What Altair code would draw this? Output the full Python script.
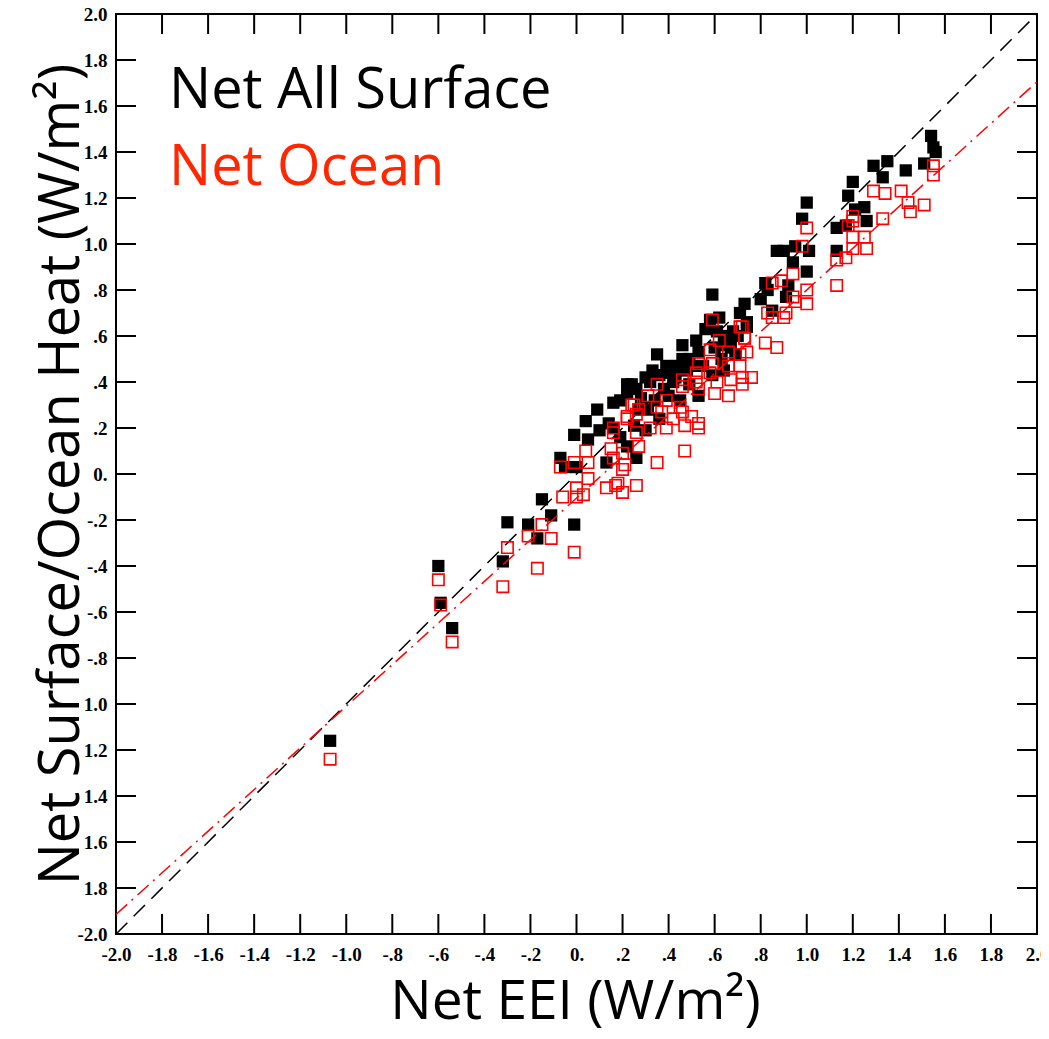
import altair as alt
import pandas as pd

# ---- data ----
black_x = [-1.07, -0.60, -0.59, -0.54, -0.32, -0.30, -0.21, -0.17, -0.15, -0.11, -0.01, -0.07, -0.01, 0.04, 0.05,
           -0.05, 0.00, 0.16, 0.22, 0.26, 0.16, 0.13, 0.19, 0.22, 0.26, 0.59, 0.73, 0.71, 0.62, 0.74,
           0.35, 0.46, 0.52, 0.46, 0.53, 0.33, 0.24, 0.39, 0.22, 0.43, 0.14, 1.35, 1.29, 1.43, 1.51,
           1.56, 1.54, 1.55, 1.33, 1.20, 1.18, 1.00, 0.98, 1.25, 1.21, 1.26, 1.13, 1.17, 0.87, 0.95,
           1.01, 0.94, 1.13, 1.00, 0.82, 0.92, 0.91, 0.85, 0.74, 0.49, 0.56, 0.64, 0.58, 0.80, 0.27,
           0.34, 0.36, 0.30, 0.40, 0.45, 0.49, 0.53, 0.59, 0.64, 0.69, 0.19, 0.10, 0.09, 0.30, 0.32,
           0.36, 0.40, 0.44, 0.48, 0.55, 0.60, 0.65, 0.68, 0.70, 0.63, 0.66, 0.25, 0.28, 0.31, 0.90,
           0.83, 0.61, 0.67, 0.42, 0.38, 0.50]
black_y = [-1.16, -0.40, -0.56, -0.67, -0.38, -0.21, -0.22, -0.28, -0.11, -0.18, -0.22, 0.07, 0.17, 0.23, 0.15,
           0.03, 0.03, 0.31, 0.39, 0.37, 0.20, 0.05, 0.16, 0.12, 0.07, 0.78, 0.74, 0.70, 0.68, 0.66,
           0.52, 0.56, 0.58, 0.50, 0.53, 0.45, 0.39, 0.47, 0.35, 0.42, 0.22, 1.36, 1.34, 1.32, 1.35,
           1.40, 1.47, 1.42, 1.29, 1.27, 1.21, 1.18, 1.11, 1.16, 1.15, 1.10, 1.07, 1.08, 0.97, 0.99,
           0.97, 0.92, 0.97, 0.88, 0.83, 0.82, 0.77, 0.71, 0.64, 0.50, 0.63, 0.60, 0.67, 0.76, 0.28,
           0.32, 0.24, 0.19, 0.34, 0.32, 0.39, 0.34, 0.43, 0.45, 0.52, 0.32, 0.19, 0.28, 0.42, 0.40,
           0.43, 0.44, 0.47, 0.45, 0.47, 0.55, 0.56, 0.62, 0.60, 0.50, 0.58, 0.21, 0.33, 0.28, 0.97,
           0.80, 0.62, 0.55, 0.40, 0.37, 0.47]

red_x = [-1.07, -0.60, -0.59, -0.54, -0.32, -0.30, -0.21, -0.15, -0.11, -0.17, -0.01, -0.06, 0.00, 0.03, 0.00,
         0.05, 0.04, -0.01, -0.07, 0.05, 0.16, 0.15, 0.16, 0.20, 0.21, 0.20, 0.13, 0.17, 0.20, 0.18,
         0.25, 0.27, 0.22, 0.26, 0.27, 0.26, 0.35, 0.47, 0.53, 0.59, 0.71, 0.73, 0.62, 0.58, 0.66,
         0.71, 0.74, 0.53, 0.59, 0.66, 0.71, 0.52, 0.58, 0.46, 0.52, 0.61, 0.67, 0.72, 0.76, 0.72,
         0.46, 0.53, 0.60, 0.66, 0.35, 0.31, 0.24, 0.39, 0.35, 0.45, 0.26, 0.22, 0.37, 0.42, 0.46,
         0.50, 0.53, 0.47, 0.39, 0.32, 0.16, 1.55, 1.55, 1.41, 1.29, 1.34, 1.44, 1.51, 1.45, 1.33,
         1.20, 1.20, 1.18, 1.00, 1.20, 1.25, 1.26, 1.20, 1.17, 1.13, 0.98, 0.94, 1.00, 1.13, 0.89,
         0.85, 0.94, 0.95, 1.00, 0.83, 0.85, 0.91, 0.90, 0.72, 0.73, 0.82, 0.87]
red_y = [-1.24, -0.46, -0.57, -0.73, -0.49, -0.32, -0.27, -0.22, -0.28, -0.41, -0.34, -0.10, -0.06, -0.09, -0.10,
         -0.02, 0.10, 0.05, 0.03, 0.05, 0.18, 0.11, 0.07, 0.09, 0.04, 0.02, -0.06, -0.05, -0.08, -0.04,
         0.30, 0.28, 0.24, 0.18, 0.12, -0.05, 0.05, 0.10, 0.20, 0.67, 0.64, 0.59, 0.58, 0.54, 0.53,
         0.52, 0.53, 0.48, 0.48, 0.47, 0.47, 0.44, 0.44, 0.41, 0.40, 0.40, 0.41, 0.42, 0.42, 0.39,
         0.38, 0.37, 0.35, 0.34, 0.39, 0.34, 0.30, 0.32, 0.29, 0.29, 0.26, 0.25, 0.27, 0.24, 0.27,
         0.25, 0.22, 0.21, 0.20, 0.20, 0.20, 1.34, 1.30, 1.23, 1.23, 1.22, 1.18, 1.17, 1.14, 1.11,
         1.12, 1.10, 1.08, 1.07, 1.03, 1.03, 0.98, 0.98, 0.94, 0.93, 0.99, 0.87, 0.80, 0.82, 0.84,
         0.83, 0.77, 0.75, 0.74, 0.70, 0.68, 0.70, 0.68, 0.64, 0.59, 0.57, 0.55]

tick_values = [-2.0, -1.8, -1.6, -1.4, -1.2, -1.0, -0.8, -0.6, -0.4, -0.2, 0.0,
               0.2, 0.4, 0.6, 0.8, 1.0, 1.2, 1.4, 1.6, 1.8, 2.0]
x_tick_labels = ["-2.0", "-1.8", "-1.6", "-1.4", "-1.2", "-1.0", "-.8", "-.6", "-.4", "-.2", "0.",
                 ".2", ".4", ".6", ".8", "1.0", "1.2", "1.4", "1.6", "1.8", "2.0"]
y_tick_labels = ["-2.0", "1.8", "1.6", "1.4", "1.2", "1.0", "-.8", "-.6", "-.4", "-.2", "0.",
                 ".2", ".4", ".6", ".8", "1.0", "1.2", "1.4", "1.6", "1.8", "2.0"]
inner_ticks = tick_values[1:-1]

fit_black = (1.0, 0.0)      # slope, intercept
fit_red = (0.905, -0.105)
line_x = [-2.0, 2.0]

legend_labels = ["Net All Surface", "Net Ocean"]
x_title = "Net EEI (W/m²)"
y_title = "Net Surface/Ocean Heat (W/m²)"

# ---- build chart ----
W, H = 921, 920
dom = [-2.0, 2.0]
xs = alt.Scale(domain=dom, nice=False, zero=False)
ys = alt.Scale(domain=dom, nice=False, zero=False)


def lab_expr(labels):
    arr = "[" + ",".join("'" + s + "'" for s in labels) + "]"
    return arr + "[round((datum.value + 2) * 5)]"


x_axis = alt.Axis(values=tick_values, labelExpr=lab_expr(x_tick_labels), ticks=False, domain=False,
                  grid=False, labelFont="Liberation Serif", labelFontSize=19, labelFontWeight="bold",
                  labelColor="black", labelPadding=11, labelFlush=False, labelOverlap=False,
                  title=x_title, titleFont="Open Sans", titleFontSize=55, titleFontWeight="normal",
                  titleColor="black", titleX=459, titleY=84, titleBaseline="alphabetic",
                  titleAlign="center")
y_axis = alt.Axis(values=tick_values, labelExpr=lab_expr(y_tick_labels), ticks=False, domain=False,
                  grid=False, labelFont="Liberation Serif", labelFontSize=19, labelFontWeight="bold",
                  labelColor="black", labelPadding=9, labelFlush=False, labelOverlap=False,
                  title=y_title, titleFont="Open Sans", titleFontSize=56, titleFontWeight="normal",
                  titleColor="black", titleX=-38, titleY=460, titleAngle=270,
                  titleBaseline="alphabetic", titleAlign="center")

black_df = pd.DataFrame({"x": black_x, "y": black_y})
red_df = pd.DataFrame({"x": red_x, "y": red_y})

black_pts = alt.Chart(black_df).mark_square(size=150, filled=True, color="black", opacity=1).encode(
    x=alt.X("x:Q", scale=xs, axis=x_axis),
    y=alt.Y("y:Q", scale=ys, axis=y_axis),
)
red_pts = alt.Chart(red_df).mark_square(size=130, filled=False, color="#ff0000", strokeWidth=1.6,
                                        opacity=1).encode(x="x:Q", y="y:Q")


def line_df(fit):
    return pd.DataFrame({"x": line_x, "y": [fit[0] * v + fit[1] for v in line_x]})


black_line = alt.Chart(line_df(fit_black)).mark_line(color="black", strokeWidth=1.5,
                                                     strokeDash=[16, 9], clip=True).encode(x="x:Q", y="y:Q")
red_line = alt.Chart(line_df(fit_red)).mark_line(color="#ff0000", strokeWidth=1.5,
                                                 strokeDash=[15, 6, 2, 6], clip=True).encode(x="x:Q", y="y:Q")

tick_df = pd.DataFrame({"t": inner_ticks})
tk = dict(color="black", strokeWidth=2)
t_bottom = alt.Chart(tick_df).mark_rule(**tk).encode(x="t:Q", y=alt.value(H), y2=alt.value(H - 20))
t_top = alt.Chart(tick_df).mark_rule(**tk).encode(x="t:Q", y=alt.value(0), y2=alt.value(20))
t_left = alt.Chart(tick_df).mark_rule(**tk).encode(y="t:Q", x=alt.value(0), x2=alt.value(20))
t_right = alt.Chart(tick_df).mark_rule(**tk).encode(y="t:Q", x=alt.value(W), x2=alt.value(W - 20))

leg1 = alt.Chart(pd.DataFrame({"label": [legend_labels[0]]})).mark_text(
    align="left", baseline="alphabetic", font="Open Sans", fontSize=56, color="black").encode(
    x=alt.value(53), y=alt.value(94), text="label:N")
leg2 = alt.Chart(pd.DataFrame({"label": [legend_labels[1]]})).mark_text(
    align="left", baseline="alphabetic", font="Open Sans", fontSize=56, color="#ff2600").encode(
    x=alt.value(53), y=alt.value(171), text="label:N")

chart = alt.layer(black_pts, black_line, red_line, red_pts, t_bottom, t_top, t_left, t_right, leg1, leg2).properties(
    width=W, height=H,
    autosize=alt.AutoSizeParams(type="none"),
    padding={"left": 108, "top": 6, "right": 4, "bottom": 96},
    background="white",
).configure_view(stroke="black", strokeWidth=2)

chart.save("out.html", embed_options={"renderer": "svg", "actions": False})
